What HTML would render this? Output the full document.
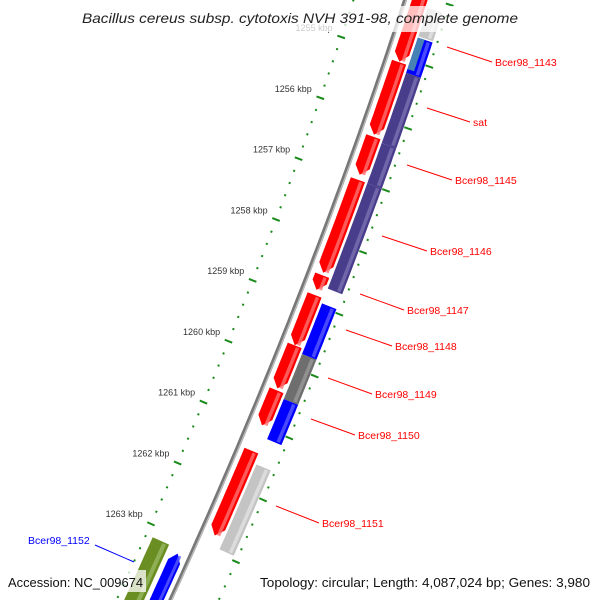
<!DOCTYPE html>
<html><head><meta charset="utf-8"><style>
html,body{margin:0;background:#fff;width:600px;height:600px;overflow:hidden}
svg{display:block;overflow:hidden;font-family:"Liberation Sans","DejaVu Sans",sans-serif}
</style></head><body>
<svg id="map" width="600" height="600" viewBox="0 0 600 600" xmlns="http://www.w3.org/2000/svg">
<g id="rulers"></g>
<g id="backbone"></g>
<g id="features"></g>
<g id="labels"></g>
<rect x="0" y="6" width="600" height="26" fill="rgba(255,255,255,0.75)"/>
<text x="300" y="23" text-anchor="middle" font-size="14" font-style="italic" fill="#222" textLength="436" lengthAdjust="spacingAndGlyphs">Bacillus cereus subsp. cytotoxis NVH 391-98, complete genome</text>
<rect x="4" y="570" width="142" height="22" fill="rgba(255,255,255,0.75)"/>
<text x="8" y="587" font-size="13" fill="#111" textLength="135" lengthAdjust="spacingAndGlyphs">Accession: NC_009674</text>
<text x="260" y="587" font-size="13" fill="#111" textLength="330" lengthAdjust="spacingAndGlyphs">Topology: circular; Length: 4,087,024 bp; Genes: 3,980</text>
</svg>
<script>
// data (kbp)
const tickLabels = [1255,1256,1257,1258,1259,1260,1261,1262,1263];
const fwdStarts = [1254.26,1255.36,1256.57,1257.27,1258.82,1259.14,1259.96,1260.69,1261.67];
const fwdEnds   = [1255.35,1256.54,1257.19,1258.78,1259.06,1259.96,1260.66,1261.26,1263.05];
const t2Starts = [1254.43,1254.91,1255.48,1256.62,1257.27,1259.22,1260.04,1260.77,1261.83];
const t2Ends   = [1254.89,1255.48,1256.62,1257.27,1258.98,1260.04,1260.77,1261.42,1263.21];
const t2Kinds  = ["lightgray","blue","purple","purple","purple","blue","darkgray","blue","lightgray"];
const innerStarts = [1263.45,1263.52];
const innerEnds   = [1264.9,1264.9];
const innerKinds  = ["olive","blue"];

const NS="http://www.w3.org/2000/svg";
const RULER_SHIFT=17/61.4;
function Y(p){return 97+(p-1256)*61.4;}
function X(y){return 405-0.325*y-1.1e-4*y*y;}
function pt(p,o){const y=Y(p);const d=-0.325-2.2e-4*y;const n=Math.hypot(1,d);return [X(y)+o/n, y-o*d/n];}
function mk(tag,attrs,parent){const e=document.createElementNS(NS,tag);for(const k in attrs)e.setAttribute(k,attrs[k]);parent.appendChild(e);return e;}
const colors={red:["#ff0000","#ff7070"],blue:["#0000ff","#5a5aff"],purple:["#483d8b","#7a70b0"],darkgray:["#6e6e6e","#9a9a9a"],lightgray:["#c4c4c4","#e2e2e2"],olive:["#6b8e23","#98b860"]};
function band(p1,p2,o1,o2,tip){
  const pts=[];const h=8/61.4;const steps=12;
  const a=tip==='start'?p1+h:p1, b=tip==='end'?p2-h:p2;
  for(let i=0;i<=steps;i++){pts.push(pt(a+(b-a)*i/steps,o1));}
  if(tip==='end')pts.push(pt(p2,(o1+o2)/2));
  for(let i=steps;i>=0;i--){pts.push(pt(a+(b-a)*i/steps,o2));}
  if(tip==='start')pts.push(pt(p1,(o1+o2)/2));
  return pts.map(q=>q[0].toFixed(1)+","+q[1].toFixed(1)).join(" ");
}
function drawFeature(p1,p2,o1,o2,kind,tip,name){
  const g=mk('g',{},document.getElementById('features'));
  
  
  const c=colors[kind];
  mk('polygon',{points:band(p1,p2,o1,o2,tip),fill:c[0]},g);
  const w=o2-o1;
  mk('polygon',{points:band(p1+0.02,p2-0.02,o1+w*0.62,o1+w*0.85,null),fill:c[1],opacity:0.8},g);
}
// backbone
const bb=document.getElementById('backbone');
function curve(o,p1,p2){let s="";for(let i=0;i<=60;i++){const q=pt(p1+(p2-p1)*i/60,o);s+=(i?"L":"M")+q[0].toFixed(1)+" "+q[1].toFixed(1);}return s;}
const bl=mk('path',{d:curve(0,1254,1265),stroke:"#777",'stroke-width':4,fill:"none"},bb);


mk('path',{d:curve(1.2,1254,1265),stroke:"#bbb",'stroke-width':1.3,fill:"none"},bb);
// rulers
const rg=document.getElementById('rulers');
for(let p=1254.0;p<=1265.01;p+=0.2){
  const major=Math.abs(p-Math.round(p))<0.01;
  const rp=p+RULER_SHIFT;
  const L=major?[-53,-45]:[-50,-48];
  const a=pt(rp,L[0]),b=pt(rp,L[1]);
  const t=mk('line',{x1:a[0],y1:a[1],x2:b[0],y2:b[1],stroke:"#1a8a1a",'stroke-width':2},rg);
  
  
  const R=major?[40,48]:[43,45];
  const c=pt(rp,R[0]),d=pt(rp,R[1]);
  const t2=mk('line',{x1:c[0],y1:c[1],x2:d[0],y2:d[1],stroke:"#1a8a1a",'stroke-width':2},rg);
  
  
}
tickLabels.forEach(k=>{
  const q=pt(k+RULER_SHIFT,-58);
  const tx=mk('text',{x:q[0].toFixed(1),y:(q[1]-3).toFixed(1),'text-anchor':'end','font-size':9,fill:"#333"},rg);
  tx.textContent=k+" kbp";
  
  
});
// features
for(let i=0;i<fwdStarts.length;i++){
  drawFeature(fwdStarts[i],fwdEnds[i],6.5,21.5,'red','end','forward-gene');
}
for(let i=0;i<t2Starts.length;i++){
  drawFeature(t2Starts[i],t2Ends[i],24,39.5,t2Kinds[i],null,'second-track-gene');
}
drawFeature(innerStarts[0],innerEnds[0],-42,-24,innerKinds[0],null,'inner-gene-olive');
drawFeature(innerStarts[1],innerEnds[1],-19,-6,innerKinds[1],'start','inner-gene-blue');
(function(){const g=mk('polygon',{points:band(1254.91,1255.42,24,31,null),fill:"#4682b4"},document.getElementById('features'));
})();
// labels
const labs=[["Bcer98_1143",447,47,495,62,"red"],["sat",427,108,473,122,"red"],["Bcer98_1145",407,165,455,180,"red"],["Bcer98_1146",382,236,430,251,"red"],["Bcer98_1147",360,294,407,310,"red"],["Bcer98_1148",346,330,395,346,"red"],["Bcer98_1149",328,378,375,394,"red"],["Bcer98_1150",311,419,358,435,"red"],["Bcer98_1151",276,506,322,523,"red"],["Bcer98_1152",134,562,28,540,"blue"]];
const lg=document.getElementById('labels');
labs.forEach(l=>{
  const left=l[5]==="blue";
  const g=mk('g',{},lg);
  
  
  const x2=left?95:l[3]-3, y2=left?545:l[4];
  mk('line',{x1:l[1],y1:l[2],x2:x2,y2:y2,stroke:l[5],'stroke-width':1},g);
  const t=mk('text',{x:l[3],y:l[4]+4,'font-size':10.5,fill:l[5]},g);
  t.textContent=l[0];
});
</script>
</body></html>
